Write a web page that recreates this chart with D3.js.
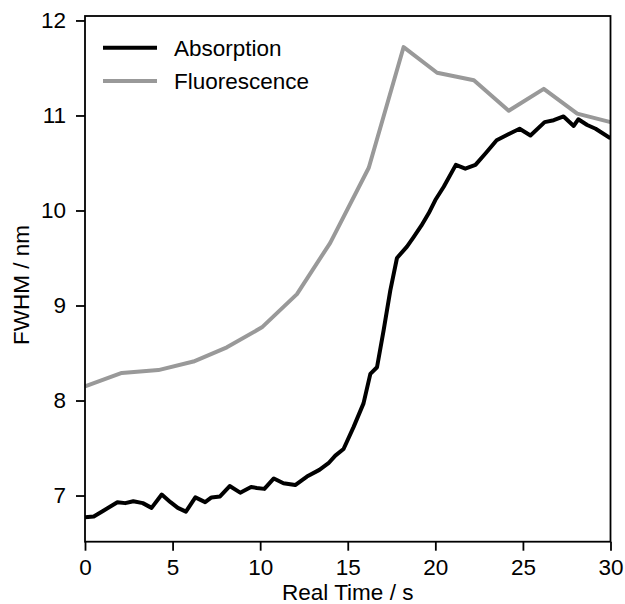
<!DOCTYPE html>
<html>
<head>
<meta charset="utf-8">
<script src="https://cdn.jsdelivr.net/npm/d3@7"></script>
<style>
  html, body { margin: 0; padding: 0; background: #fff; }
  svg { display: block; }
  text { font-family: "Liberation Sans", Arial, Helvetica, sans-serif; fill: #000; }
</style>
</head>
<body>
<svg id="chart" width="625" height="604"></svg>
<script>
// ---- data ----
const absorptionTime = [0, 0.5, 1.05, 1.85, 2.3, 2.76, 3.3, 3.8, 4.38, 4.88, 5.3, 5.76, 6.3, 6.86, 7.22, 7.71,
  8.26, 8.86, 9.48, 9.81, 10.24, 10.78, 11.33, 12.0, 12.67, 13.38, 13.9, 14.29, 14.76, 15.33, 15.9, 16.29,
  16.67, 17.05, 17.43, 17.81, 18.38, 18.76, 19.2, 19.62, 20.0, 20.48, 21.17, 21.71, 22.29, 22.86, 23.5,
  24.14, 24.81, 25.43, 26.24, 26.76, 27.32, 27.9, 28.16, 28.67, 29.15, 30.0];
const absorptionFWHM = [6.77, 6.78, 6.84, 6.93, 6.92, 6.94, 6.92, 6.87, 7.01, 6.93, 6.87, 6.83, 6.98, 6.93, 6.98, 6.99,
  7.10, 7.03, 7.09, 7.08, 7.07, 7.18, 7.13, 7.11, 7.20, 7.27, 7.34, 7.42, 7.49, 7.72, 7.97, 8.28,
  8.35, 8.74, 9.16, 9.50, 9.62, 9.72, 9.84, 9.97, 10.11, 10.25, 10.48, 10.44, 10.48, 10.60, 10.74,
  10.80, 10.86, 10.79, 10.93, 10.95, 10.99, 10.89, 10.96, 10.90, 10.86, 10.76];

const fluorescenceTime = [0, 2.1, 4.19, 6.19, 8.1, 10.1, 12.1, 14.0, 16.2, 18.19, 20.1, 22.2, 24.19, 26.19, 28.1, 30.0];
const fluorescenceFWHM = [8.15, 8.29, 8.32, 8.41, 8.56, 8.77, 9.12, 9.66, 10.45, 11.72, 11.45, 11.37, 11.05, 11.28, 11.02, 10.93];

const xTicks = [0, 5, 10, 15, 20, 25, 30];
const yTicks = [7, 8, 9, 10, 11, 12];
const seriesNames = ["Absorption", "Fluorescence"];
const seriesColors = ["#000000", "#999999"];

// ---- layout ----
const svg = d3.select("#chart");
const mLeft = 85, mRight = 610.5, mTop = 16, mBottom = 541.7;

const x = d3.scaleLinear().domain([0, 30]).range([mLeft, mRight]);
const y = d3.scaleLinear().domain([6.514, 12.047]).range([mBottom, mTop]);

svg.append("defs").append("clipPath").attr("id", "plotclip")
  .append("rect").attr("x", mLeft).attr("y", mTop).attr("width", mRight - mLeft).attr("height", mBottom - mTop);

const line = d3.line().x(d => x(d[0])).y(d => y(d[1]));

const fluo = fluorescenceTime.map((t, i) => [t, fluorescenceFWHM[i]]);
const abs = absorptionTime.map((t, i) => [t, absorptionFWHM[i]]);

const plot = svg.append("g").attr("clip-path", "url(#plotclip)");
plot.append("path").datum(fluo).attr("d", line)
  .attr("fill", "none").attr("stroke", seriesColors[1]).attr("stroke-width", 4)
  .attr("stroke-linejoin", "round");
plot.append("path").datum(abs).attr("d", line)
  .attr("fill", "none").attr("stroke", seriesColors[0]).attr("stroke-width", 4)
  .attr("stroke-linejoin", "round");

// frame
svg.append("rect").attr("x", mLeft).attr("y", mTop).attr("width", mRight - mLeft).attr("height", mBottom - mTop)
  .attr("fill", "none").attr("stroke", "#000").attr("stroke-width", 1.8);

// axes
const xAxis = d3.axisBottom(x).tickValues(xTicks).tickSize(9).tickPadding(8).tickFormat(d3.format("d"));
const gx = svg.append("g").attr("transform", `translate(0,${mBottom})`).call(xAxis);
gx.select(".domain").remove();
gx.selectAll("line").attr("stroke-width", 1.8);
gx.selectAll("text").style("font-size", "22.5px").attr("font-family", null);

const yAxis = d3.axisLeft(y).tickValues(yTicks).tickSize(9).tickPadding(10).tickFormat(d3.format("d"));
const gy = svg.append("g").attr("transform", `translate(${mLeft},0)`).call(yAxis);
gy.select(".domain").remove();
gy.selectAll("line").attr("stroke-width", 1.8);
gy.selectAll("text").style("font-size", "22.5px").attr("font-family", null);

// axis labels
svg.append("text").attr("x", (mLeft + mRight) / 2).attr("y", 600)
  .attr("text-anchor", "middle").style("font-size", "22.5px").text("Real Time / s");
svg.append("text").attr("transform", `translate(29,285) rotate(-90)`)
  .attr("text-anchor", "middle").style("font-size", "22.5px").text("FWHM / nm");

// legend
const legY = [47.7, 81];
seriesNames.forEach((name, i) => {
  svg.append("line").attr("x1", 103).attr("x2", 157).attr("y1", legY[i]).attr("y2", legY[i])
    .attr("stroke", seriesColors[i]).attr("stroke-width", 4);
  svg.append("text").attr("x", 174).attr("y", legY[i] + 8).style("font-size", "22.5px").text(name);
});
</script>
</body>
</html>
